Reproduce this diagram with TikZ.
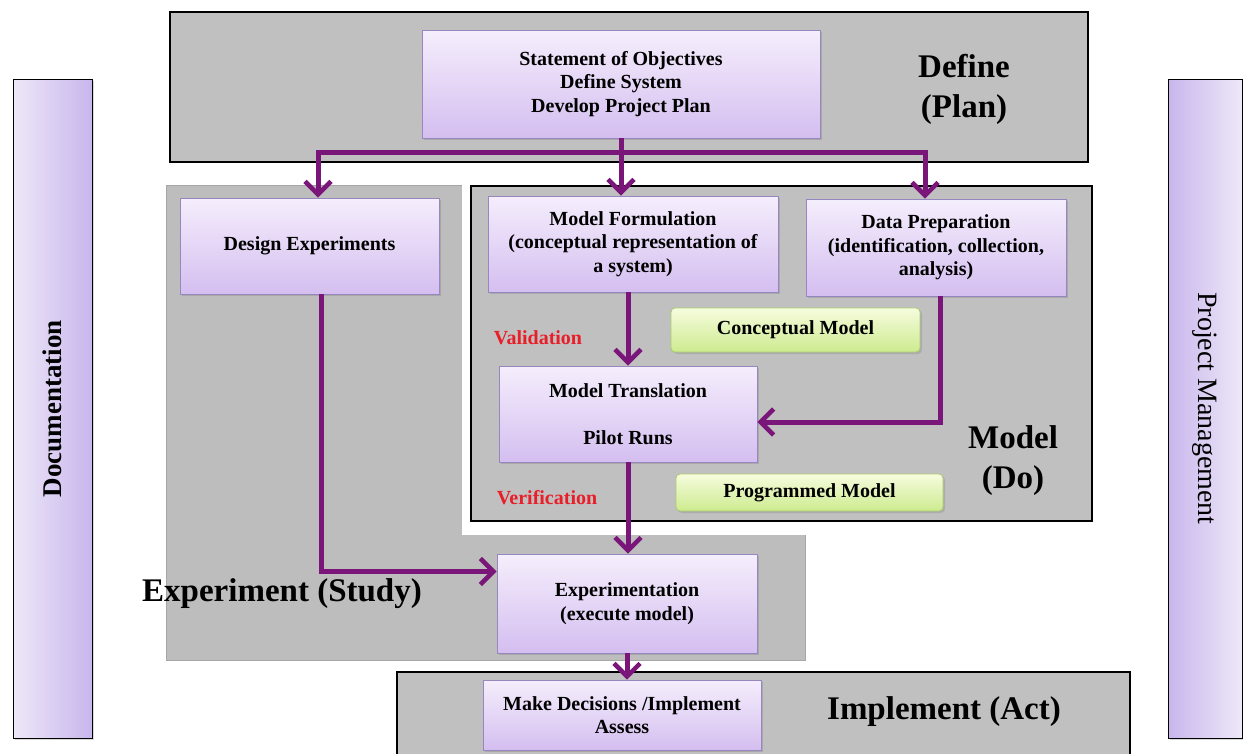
\documentclass[tikz,border=0pt]{standalone}
\usepackage{fontspec}
\setmainfont{Liberation Serif}
\usetikzlibrary{arrows.meta,shadows,calc}
\definecolor{pan}{RGB}{192,192,192}
\definecolor{expan}{RGB}{189,189,189}
\definecolor{arrowc}{RGB}{122,22,122}
\definecolor{lavtop}{RGB}{245,238,252}
\definecolor{lavbot}{RGB}{212,190,240}
\definecolor{lavedge}{RGB}{150,136,190}
\definecolor{sidelight}{RGB}{238,232,248}
\definecolor{sidedark}{RGB}{200,182,236}
\definecolor{grtop}{RGB}{246,252,222}
\definecolor{grbot}{RGB}{205,235,143}
\definecolor{gredge}{RGB}{170,204,110}
\definecolor{redlab}{RGB}{232,30,40}
\newcommand{\bxfont}{\bfseries\fontsize{20}{23.5}\selectfont}
\newcommand{\bigfont}{\bfseries\fontsize{33}{40}\selectfont}
\begin{document}
\begin{tikzpicture}[x=1pt,y=-1pt,
  panel/.style={fill=pan, draw=black, line width=1.3pt},
  pbox/.style={draw=lavedge, line width=0.8pt, top color=lavtop, bottom color=lavbot,
     inner sep=0pt, align=center, font=\bxfont,
     drop shadow={shadow xshift=2pt, shadow yshift=-2pt, opacity=0.35}},
  gbox/.style={draw=gredge, line width=0.8pt, top color=grtop, bottom color=grbot,
     rounded corners=4pt, inner sep=0pt, align=center, font=\bxfont,
     drop shadow={shadow xshift=2pt, shadow yshift=-2pt, opacity=0.3}},
  side/.style={draw=black, line width=1pt, inner sep=0pt,
     drop shadow={shadow xshift=2pt, shadow yshift=-2pt, opacity=0.3}},
  biglab/.style={font=\bigfont, align=center, inner sep=0pt},
  redl/.style={font=\bxfont, text=redlab, inner sep=0pt},
  pline/.style={draw=arrowc, line width=5pt},
  arr/.style={pline, -{Straight Barb[length=13pt,width=26pt,line width=4.5pt]}}
]
\useasboundingbox (0,0) rectangle (1243,753);
\fill[white] (0,0) rectangle (1243,753);

% panels
\draw[panel] (170,12) rectangle (1088,162);
\fill[expan] (166,185) rectangle (805,660);
\draw[gray!70, line width=0.8pt] (166,185) rectangle (805,660);
\fill[white] (462,178) rectangle (1100,535);
\draw[panel] (471,186) rectangle (1092,521);
\draw[panel] (397,672) rectangle (1130,770);

% side bars
\node[side, minimum width=79pt, minimum height=659pt,
      left color=sidelight, right color=sidedark] (docbar) at (52.5,408.5) {};
\node[rotate=90, font=\bfseries\fontsize{27}{30}\selectfont] (doc) at (docbar.center) {Documentation};
\node[side, minimum width=74pt, minimum height=659pt,
      left color=sidedark, right color=sidelight] (pmbar) at (1205,408.5) {};
\node[rotate=-90, font=\fontsize{28}{30}\selectfont] (pmg) at (pmbar.center) {Project Management};

% boxes
\node[pbox, minimum width=398pt, minimum height=108pt] (stmt) at (621,84)
  {Statement of Objectives\\Define System\\Develop Project Plan};
\node[pbox, minimum width=259pt, minimum height=96pt] (de) at (309.5,246) {Design Experiments};
\node[pbox, minimum width=290pt, minimum height=96pt] (mf) at (633,244)
  {Model Formulation\\(conceptual representation of\\a system)};
\node[pbox, minimum width=260pt, minimum height=97pt] (dp) at (936,247.5)
  {Data Preparation\\(identification, collection,\\analysis)};
\node[gbox, minimum width=249pt, minimum height=44pt] (cm) at (795.5,330) {Conceptual Model};
\node[pbox, minimum width=258pt, minimum height=96pt] (mt) at (628,414)
  {Model Translation\\[24pt]Pilot Runs};
\node[gbox, minimum width=267pt, minimum height=37pt] (pm) at (809.5,492.5) {Programmed Model};
\node[pbox, minimum width=260pt, minimum height=99pt] (ex) at (627,603.5)
  {Experimentation\\(execute model)};
\node[pbox, minimum width=278pt, minimum height=70pt] (md) at (622,715)
  {Make Decisions /Implement\\Assess};

% labels
\node[biglab] (ldef) at (964,89) {Define\\(Plan)};
\node[biglab] (lmod) at (1013,461) {Model\\(Do)};
\node[biglab] (lexp) at (282,594) {Experiment (Study)};
\node[biglab] (limp) at (944,712) {Implement (Act)};
\node[redl] (val) at (538,338) {Validation};
\node[redl] (ver) at (547,498) {Verification};

% connectors
\coordinate (bL) at (318,152);
\coordinate (bR) at (925,152);
\draw[pline, line cap=rect] (bL) -- (bR);
\draw[arr] (stmt.south) -- (stmt.south |- mf.north);
\draw[arr] (bL) -- (bL |- de.north);
\draw[arr] (bR) -- (bR |- dp.north);
\draw[arr] (mt.north |- mf.south) -- (mt.north);
\draw[arr] ([xshift=4pt]dp.south) |- ([yshift=-8pt]mt.east);
\draw[arr] (mt.south) -- (mt.south |- ex.north);
\draw[arr] ([xshift=12pt]de.south) |- ([yshift=32pt]ex.west);
\draw[arr] (ex.south) -- (ex.south |- md.north);
\end{tikzpicture}
\end{document}
